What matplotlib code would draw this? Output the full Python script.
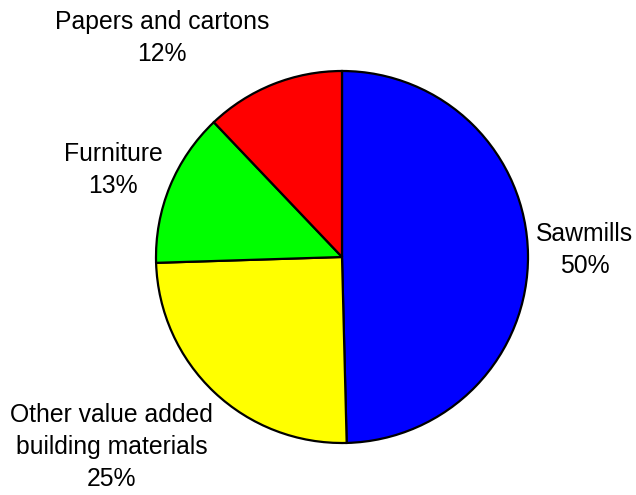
import matplotlib
matplotlib.use("Agg")
import matplotlib.pyplot as plt

categories = ["Sawmills", "Other value added\nbuilding materials", "Furniture", "Papers and cartons"]
values = [49.6, 24.9, 13.4, 12.1]
colors = ["#0000FF", "#FFFF00", "#00FF00", "#FF0000"]
label_pos = [(1.306, 0.038), (-1.237, -1.022), (-1.231, 0.468), (-0.968, 1.177)]

plt.rcParams['font.family'] = ['Liberation Sans', 'DejaVu Sans']
fig = plt.figure(figsize=(6.36, 4.95), dpi=100)
ax = fig.add_axes([0, 0, 1, 1])
ax.pie(values, colors=colors, startangle=90, counterclock=False,
       wedgeprops=dict(edgecolor='black', linewidth=1.6), radius=1.0)
for cat, v, (x, y) in zip(categories, values, label_pos):
    ax.text(x, y, f"{cat}\n{round(v)}%", ha='center', va='center',
            fontsize=17.8, linespacing=1.4, color='black')
ax.set_xlim(-342/186, (636-342)/186)
ax.set_ylim(-(495-257)/186, 257/186)
ax.set_aspect('equal')
ax.axis('off')
fig.savefig("out.png", dpi=100, facecolor='white')
